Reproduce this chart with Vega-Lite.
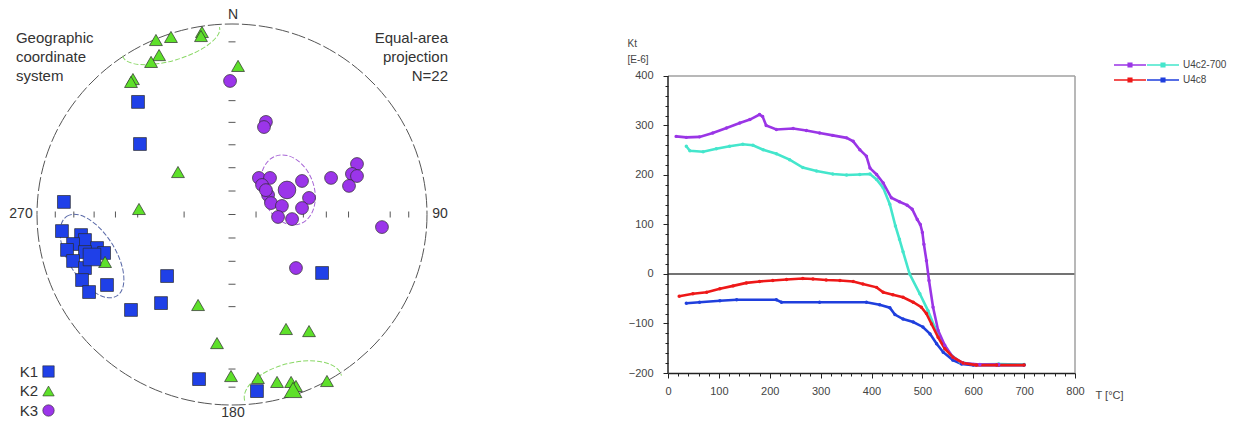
{
  "$schema": "https://vega.github.io/schema/vega-lite/v6.json",
  "padding": 0,
  "bounds": "flush",
  "spacing": 208,
  "config": {"view": {"stroke": null}, "font": "Liberation Sans"},
  "resolve": {
    "scale": {"color": "independent", "shape": "independent", "size": "independent", "x": "independent", "y": "independent"},
    "legend": {"color": "independent", "shape": "independent"}
  },
  "hconcat": [
    {
      "width": 460,
      "height": 421,
      "encoding": {
        "x": {"field": "x", "type": "quantitative", "scale": {"domain": [-1.18974, 1.16923], "nice": false, "zero": false}, "axis": null},
        "y": {"field": "y", "type": "quantitative", "scale": {"domain": [-1.08399, 1.12598], "nice": false, "zero": false}, "axis": null}
      },
      "layer": [
        {
          "data": {"values": [{"x": 0, "y": 0}]},
          "mark": {"type": "point", "shape": "M 1 0 C 1 0.5396 0.5523 0.977 0 0.977 C -0.5523 0.977 -1 0.5396 -1 0 C -1 -0.5396 -0.5523 -0.977 0 -0.977 C 0.5523 -0.977 1 -0.5396 1 0 Z", "size": 152100, "filled": false, "stroke": "#555555", "strokeWidth": 1, "strokeDash": [14, 3], "opacity": 1}
        },
        {
          "data": {"values": [
            {"x": -0.9063, "y": 0}, {"x": -0.8112, "y": 0}, {"x": -0.7071, "y": 0}, {"x": -0.5977, "y": 0}, {"x": -0.4837, "y": 0}, {"x": -0.2456, "y": 0},
            {"x": 0.1233, "y": 0}, {"x": 0.2456, "y": 0}, {"x": 0.366, "y": 0}, {"x": 0.4837, "y": 0}, {"x": 0.5977, "y": 0}, {"x": 0.8112, "y": 0}, {"x": 0.9063, "y": 0}
          ]},
          "mark": {"type": "tick", "orient": "vertical", "size": 6, "thickness": 1, "color": "#555555", "opacity": 1}
        },
        {
          "data": {"values": [
            {"x": 0, "y": 0}, {"x": 0, "y": 0.1233}, {"x": 0, "y": 0.2456}, {"x": 0, "y": 0.366}, {"x": 0, "y": 0.4837}, {"x": 0, "y": 0.5977}, {"x": 0, "y": 0.9063},
            {"x": 0, "y": -0.1233}, {"x": 0, "y": -0.2456}, {"x": 0, "y": -0.366}, {"x": 0, "y": -0.4837}, {"x": 0, "y": -0.8112}, {"x": 0, "y": -0.9063}
          ]},
          "mark": {"type": "tick", "orient": "horizontal", "size": 7, "thickness": 1, "color": "#555555", "opacity": 1}
        },
        {
          "data": {"values": [{"x": 0.287, "y": 0.129}]},
          "mark": {"type": "point", "shape": "M 0 -1 C 0.399 -1 0.722 -0.5523 0.722 0 C 0.722 0.5523 0.399 1 0 1 C -0.399 1 -0.722 0.5523 -0.722 0 C -0.722 -0.5523 -0.399 -1 0 -1 Z", "size": 5184, "angle": -20, "filled": false, "stroke": "#a765d6", "strokeWidth": 1, "strokeDash": [5, 2], "opacity": 1}
        },
        {
          "data": {"values": [{"x": -0.718, "y": -0.218}]},
          "mark": {"type": "point", "shape": "M 0 -1 C 0.276 -1 0.5 -0.5523 0.5 0 C 0.5 0.5523 0.276 1 0 1 C -0.276 1 -0.5 0.5523 -0.5 0 C -0.5 -0.5523 -0.276 -1 0 -1 Z", "size": 8836, "angle": -32, "filled": false, "stroke": "#5a6aa8", "strokeWidth": 1, "strokeDash": [5, 2], "opacity": 1}
        },
        {
          "data": {"values": [{"x": -0.313, "y": 0.908}]},
          "mark": {"type": "point", "shape": "M -1 0 C -1 0.207 -0.5523 0.375 0 0.375 C 0.5523 0.375 1 0.207 1 0", "size": 10240, "angle": -16.6, "filled": false, "stroke": "#8ad866", "strokeWidth": 1, "strokeDash": [5, 2], "opacity": 1}
        },
        {
          "data": {"values": [{"x": 0.313, "y": -0.911}]},
          "mark": {"type": "point", "shape": "M -1 0 C -1 -0.276 -0.5523 -0.5 0 -0.5 C 0.5523 -0.5 1 -0.276 1 0", "size": 10000, "angle": -14.5, "filled": false, "stroke": "#8ad866", "strokeWidth": 1, "strokeDash": [5, 2], "opacity": 1}
        },
        {
          "data": {"values": [
            {"x": -0.482, "y": 0.591, "axis": "K1", "kind": "sample"},
            {"x": -0.472, "y": 0.370, "axis": "K1", "kind": "sample"},
            {"x": -0.862, "y": 0.066, "axis": "K1", "kind": "sample"},
            {"x": -0.872, "y": -0.087, "axis": "K1", "kind": "sample"},
            {"x": -0.774, "y": -0.108, "axis": "K1", "kind": "sample"},
            {"x": -0.754, "y": -0.134, "axis": "K1", "kind": "sample"},
            {"x": -0.815, "y": -0.155, "axis": "K1", "kind": "sample"},
            {"x": -0.846, "y": -0.186, "axis": "K1", "kind": "sample"},
            {"x": -0.692, "y": -0.176, "axis": "K1", "kind": "sample"},
            {"x": -0.656, "y": -0.202, "axis": "K1", "kind": "sample"},
            {"x": -0.754, "y": -0.197, "axis": "K1", "kind": "sample"},
            {"x": -0.815, "y": -0.244, "axis": "K1", "kind": "sample"},
            {"x": -0.754, "y": -0.281, "axis": "K1", "kind": "sample"},
            {"x": -0.769, "y": -0.344, "axis": "K1", "kind": "sample"},
            {"x": -0.641, "y": -0.370, "axis": "K1", "kind": "sample"},
            {"x": -0.733, "y": -0.407, "axis": "K1", "kind": "sample"},
            {"x": -0.333, "y": -0.323, "axis": "K1", "kind": "sample"},
            {"x": -0.364, "y": -0.465, "axis": "K1", "kind": "sample"},
            {"x": -0.518, "y": -0.501, "axis": "K1", "kind": "sample"},
            {"x": -0.169, "y": -0.864, "axis": "K1", "kind": "sample"},
            {"x": 0.462, "y": -0.307, "axis": "K1", "kind": "sample"},
            {"x": 0.128, "y": -0.927, "axis": "K1", "kind": "sample"},
            {"x": -0.390, "y": 0.916, "axis": "K2", "kind": "sample"},
            {"x": -0.313, "y": 0.932, "axis": "K2", "kind": "sample"},
            {"x": -0.154, "y": 0.958, "axis": "K2", "kind": "sample"},
            {"x": -0.159, "y": 0.937, "axis": "K2", "kind": "sample"},
            {"x": -0.374, "y": 0.837, "axis": "K2", "kind": "sample"},
            {"x": -0.415, "y": 0.801, "axis": "K2", "kind": "sample"},
            {"x": -0.508, "y": 0.711, "axis": "K2", "kind": "sample"},
            {"x": -0.518, "y": 0.696, "axis": "K2", "kind": "sample"},
            {"x": 0.031, "y": 0.780, "axis": "K2", "kind": "sample"},
            {"x": -0.277, "y": 0.223, "axis": "K2", "kind": "sample"},
            {"x": -0.477, "y": 0.029, "axis": "K2", "kind": "sample"},
            {"x": -0.651, "y": -0.249, "axis": "K2", "kind": "sample"},
            {"x": -0.174, "y": -0.475, "axis": "K2", "kind": "sample"},
            {"x": -0.077, "y": -0.675, "axis": "K2", "kind": "sample"},
            {"x": -0.005, "y": -0.848, "axis": "K2", "kind": "sample"},
            {"x": 0.277, "y": -0.601, "axis": "K2", "kind": "sample"},
            {"x": 0.395, "y": -0.612, "axis": "K2", "kind": "sample"},
            {"x": 0.133, "y": -0.858, "axis": "K2", "kind": "sample"},
            {"x": 0.231, "y": -0.879, "axis": "K2", "kind": "sample"},
            {"x": 0.303, "y": -0.879, "axis": "K2", "kind": "sample"},
            {"x": 0.328, "y": -0.900, "axis": "K2", "kind": "sample"},
            {"x": 0.487, "y": -0.874, "axis": "K2", "kind": "sample"},
            {"x": -0.010, "y": 0.701, "axis": "K3", "kind": "sample"},
            {"x": 0.174, "y": 0.486, "axis": "K3", "kind": "sample"},
            {"x": 0.164, "y": 0.459, "axis": "K3", "kind": "sample"},
            {"x": 0.138, "y": 0.192, "axis": "K3", "kind": "sample"},
            {"x": 0.195, "y": 0.192, "axis": "K3", "kind": "sample"},
            {"x": 0.154, "y": 0.155, "axis": "K3", "kind": "sample"},
            {"x": 0.359, "y": 0.176, "axis": "K3", "kind": "sample"},
            {"x": 0.185, "y": 0.102, "axis": "K3", "kind": "sample"},
            {"x": 0.200, "y": 0.060, "axis": "K3", "kind": "sample"},
            {"x": 0.256, "y": 0.045, "axis": "K3", "kind": "sample"},
            {"x": 0.395, "y": 0.087, "axis": "K3", "kind": "sample"},
            {"x": 0.359, "y": 0.034, "axis": "K3", "kind": "sample"},
            {"x": 0.236, "y": -0.013, "axis": "K3", "kind": "sample"},
            {"x": 0.308, "y": -0.024, "axis": "K3", "kind": "sample"},
            {"x": 0.508, "y": 0.192, "axis": "K3", "kind": "sample"},
            {"x": 0.641, "y": 0.265, "axis": "K3", "kind": "sample"},
            {"x": 0.615, "y": 0.213, "axis": "K3", "kind": "sample"},
            {"x": 0.641, "y": 0.202, "axis": "K3", "kind": "sample"},
            {"x": 0.600, "y": 0.150, "axis": "K3", "kind": "sample"},
            {"x": 0.769, "y": -0.066, "axis": "K3", "kind": "sample"},
            {"x": 0.328, "y": -0.281, "axis": "K3", "kind": "sample"},
            {"x": 0.174, "y": 0.128, "axis": "K3", "kind": "sample"},
            {"x": -0.718, "y": -0.223, "axis": "K1", "kind": "mean"},
            {"x": 0.313, "y": -0.921, "axis": "K2", "kind": "mean"},
            {"x": 0.282, "y": 0.129, "axis": "K3", "kind": "mean"}
          ]},
          "mark": {"type": "point", "filled": true, "stroke": "#2b2b2b", "strokeWidth": 0.7, "opacity": 1},
          "encoding": {
            "color": {"field": "axis", "type": "nominal", "scale": {"domain": ["K1", "K2", "K3"], "range": ["#1f40e8", "#5ee02a", "#9b35ea"]},
              "legend": {"orient": "none", "legendX": 41, "legendY": 364, "title": null, "direction": "vertical", "labelAlign": "right", "labelOffset": -18, "labelFontSize": 15, "labelColor": "#333333", "symbolSize": 130, "symbolStrokeColor": "#2b2b2b", "symbolStrokeWidth": 0.6, "rowPadding": 3.5, "padding": 0}},
            "shape": {"field": "axis", "type": "nominal", "scale": {"domain": ["K1", "K2", "K3"], "range": ["square", "triangle-up", "circle"]},
              "legend": {"orient": "none", "legendX": 41, "legendY": 364, "title": null, "direction": "vertical", "labelAlign": "right", "labelOffset": -18, "labelFontSize": 15, "labelColor": "#333333", "symbolSize": 130, "symbolStrokeColor": "#2b2b2b", "symbolStrokeWidth": 0.6, "rowPadding": 3.5, "padding": 0}},
            "size": {"field": "kind", "type": "ordinal", "scale": {"domain": ["sample", "mean"], "range": [165, 310]}, "legend": null}
          }
        },
        {
          "data": {"values": [{"x": -1.108, "y": 0.9, "label": "Geographic\ncoordinate\nsystem"}]},
          "mark": {"type": "text", "align": "left", "baseline": "alphabetic", "fontSize": 15, "lineHeight": 19, "lineBreak": "\n", "color": "#333333"},
          "encoding": {"text": {"field": "label"}}
        },
        {
          "data": {"values": [{"x": 1.108, "y": 0.9, "label": "Equal-area\nprojection\nN=22"}]},
          "mark": {"type": "text", "align": "right", "baseline": "alphabetic", "fontSize": 15, "lineHeight": 19, "lineBreak": "\n", "color": "#333333"},
          "encoding": {"text": {"field": "label"}}
        },
        {
          "data": {"values": [
            {"x": 0.005, "y": 1.047, "label": "N"},
            {"x": -1.082, "y": 0, "label": "270"},
            {"x": 1.067, "y": 0, "label": "90"},
            {"x": 0.005, "y": -1.042, "label": "180"}
          ]},
          "mark": {"type": "text", "align": "center", "baseline": "middle", "fontSize": 14, "color": "#333333"},
          "encoding": {"text": {"field": "label"}}
        }
      ]
    },
    {
      "width": 407,
      "height": 373,
      "data": {"values": [
        {"T": 16, "K": 278, "sample": "U4c2-700", "run": "heating"},
        {"T": 36, "K": 276, "sample": "U4c2-700", "run": "heating"},
        {"T": 62, "K": 277, "sample": "U4c2-700", "run": "heating"},
        {"T": 88, "K": 285, "sample": "U4c2-700", "run": "heating"},
        {"T": 115, "K": 295, "sample": "U4c2-700", "run": "heating"},
        {"T": 141, "K": 305, "sample": "U4c2-700", "run": "heating"},
        {"T": 161, "K": 312, "sample": "U4c2-700", "run": "heating"},
        {"T": 180, "K": 322, "sample": "U4c2-700", "run": "heating"},
        {"T": 186, "K": 318, "sample": "U4c2-700", "run": "heating"},
        {"T": 193, "K": 300, "sample": "U4c2-700", "run": "heating"},
        {"T": 213, "K": 292, "sample": "U4c2-700", "run": "heating"},
        {"T": 246, "K": 294, "sample": "U4c2-700", "run": "heating"},
        {"T": 272, "K": 290, "sample": "U4c2-700", "run": "heating"},
        {"T": 298, "K": 285, "sample": "U4c2-700", "run": "heating"},
        {"T": 324, "K": 280, "sample": "U4c2-700", "run": "heating"},
        {"T": 351, "K": 275, "sample": "U4c2-700", "run": "heating"},
        {"T": 364, "K": 268, "sample": "U4c2-700", "run": "heating"},
        {"T": 377, "K": 251, "sample": "U4c2-700", "run": "heating"},
        {"T": 390, "K": 238, "sample": "U4c2-700", "run": "heating"},
        {"T": 397, "K": 214, "sample": "U4c2-700", "run": "heating"},
        {"T": 410, "K": 201, "sample": "U4c2-700", "run": "heating"},
        {"T": 423, "K": 184, "sample": "U4c2-700", "run": "heating"},
        {"T": 439, "K": 154, "sample": "U4c2-700", "run": "heating"},
        {"T": 455, "K": 146, "sample": "U4c2-700", "run": "heating"},
        {"T": 470, "K": 139, "sample": "U4c2-700", "run": "heating"},
        {"T": 480, "K": 131, "sample": "U4c2-700", "run": "heating"},
        {"T": 490, "K": 110, "sample": "U4c2-700", "run": "heating"},
        {"T": 496, "K": 100, "sample": "U4c2-700", "run": "heating"},
        {"T": 500, "K": 84, "sample": "U4c2-700", "run": "heating"},
        {"T": 503, "K": 60, "sample": "U4c2-700", "run": "heating"},
        {"T": 508, "K": 27, "sample": "U4c2-700", "run": "heating"},
        {"T": 513, "K": -13, "sample": "U4c2-700", "run": "heating"},
        {"T": 521, "K": -67, "sample": "U4c2-700", "run": "heating"},
        {"T": 531, "K": -114, "sample": "U4c2-700", "run": "heating"},
        {"T": 544, "K": -144, "sample": "U4c2-700", "run": "heating"},
        {"T": 560, "K": -168, "sample": "U4c2-700", "run": "heating"},
        {"T": 580, "K": -180, "sample": "U4c2-700", "run": "heating"},
        {"T": 613, "K": -183, "sample": "U4c2-700", "run": "heating"},
        {"T": 650, "K": -183, "sample": "U4c2-700", "run": "heating"},
        {"T": 36, "K": 258, "sample": "U4c2-700", "run": "cooling"},
        {"T": 43, "K": 249, "sample": "U4c2-700", "run": "cooling"},
        {"T": 69, "K": 247, "sample": "U4c2-700", "run": "cooling"},
        {"T": 95, "K": 253, "sample": "U4c2-700", "run": "cooling"},
        {"T": 121, "K": 258, "sample": "U4c2-700", "run": "cooling"},
        {"T": 147, "K": 262, "sample": "U4c2-700", "run": "cooling"},
        {"T": 167, "K": 260, "sample": "U4c2-700", "run": "cooling"},
        {"T": 187, "K": 251, "sample": "U4c2-700", "run": "cooling"},
        {"T": 213, "K": 243, "sample": "U4c2-700", "run": "cooling"},
        {"T": 239, "K": 231, "sample": "U4c2-700", "run": "cooling"},
        {"T": 265, "K": 215, "sample": "U4c2-700", "run": "cooling"},
        {"T": 292, "K": 208, "sample": "U4c2-700", "run": "cooling"},
        {"T": 324, "K": 202, "sample": "U4c2-700", "run": "cooling"},
        {"T": 351, "K": 200, "sample": "U4c2-700", "run": "cooling"},
        {"T": 377, "K": 201, "sample": "U4c2-700", "run": "cooling"},
        {"T": 397, "K": 202, "sample": "U4c2-700", "run": "cooling"},
        {"T": 410, "K": 191, "sample": "U4c2-700", "run": "cooling"},
        {"T": 423, "K": 174, "sample": "U4c2-700", "run": "cooling"},
        {"T": 436, "K": 141, "sample": "U4c2-700", "run": "cooling"},
        {"T": 447, "K": 97, "sample": "U4c2-700", "run": "cooling"},
        {"T": 455, "K": 70, "sample": "U4c2-700", "run": "cooling"},
        {"T": 462, "K": 45, "sample": "U4c2-700", "run": "cooling"},
        {"T": 475, "K": 0, "sample": "U4c2-700", "run": "cooling"},
        {"T": 495, "K": -40, "sample": "U4c2-700", "run": "cooling"},
        {"T": 511, "K": -74, "sample": "U4c2-700", "run": "cooling"},
        {"T": 524, "K": -107, "sample": "U4c2-700", "run": "cooling"},
        {"T": 537, "K": -134, "sample": "U4c2-700", "run": "cooling"},
        {"T": 554, "K": -161, "sample": "U4c2-700", "run": "cooling"},
        {"T": 574, "K": -178, "sample": "U4c2-700", "run": "cooling"},
        {"T": 600, "K": -183, "sample": "U4c2-700", "run": "cooling"},
        {"T": 650, "K": -182, "sample": "U4c2-700", "run": "cooling"},
        {"T": 700, "K": -183, "sample": "U4c2-700", "run": "cooling"},
        {"T": 22, "K": -45, "sample": "U4c8", "run": "heating"},
        {"T": 49, "K": -40, "sample": "U4c8", "run": "heating"},
        {"T": 76, "K": -37, "sample": "U4c8", "run": "heating"},
        {"T": 102, "K": -30, "sample": "U4c8", "run": "heating"},
        {"T": 128, "K": -24, "sample": "U4c8", "run": "heating"},
        {"T": 154, "K": -18, "sample": "U4c8", "run": "heating"},
        {"T": 180, "K": -15, "sample": "U4c8", "run": "heating"},
        {"T": 206, "K": -13, "sample": "U4c8", "run": "heating"},
        {"T": 233, "K": -11, "sample": "U4c8", "run": "heating"},
        {"T": 265, "K": -9, "sample": "U4c8", "run": "heating"},
        {"T": 285, "K": -10, "sample": "U4c8", "run": "heating"},
        {"T": 311, "K": -12, "sample": "U4c8", "run": "heating"},
        {"T": 338, "K": -13, "sample": "U4c8", "run": "heating"},
        {"T": 364, "K": -15, "sample": "U4c8", "run": "heating"},
        {"T": 383, "K": -20, "sample": "U4c8", "run": "heating"},
        {"T": 410, "K": -27, "sample": "U4c8", "run": "heating"},
        {"T": 423, "K": -37, "sample": "U4c8", "run": "heating"},
        {"T": 442, "K": -42, "sample": "U4c8", "run": "heating"},
        {"T": 462, "K": -47, "sample": "U4c8", "run": "heating"},
        {"T": 482, "K": -57, "sample": "U4c8", "run": "heating"},
        {"T": 498, "K": -67, "sample": "U4c8", "run": "heating"},
        {"T": 508, "K": -80, "sample": "U4c8", "run": "heating"},
        {"T": 518, "K": -101, "sample": "U4c8", "run": "heating"},
        {"T": 531, "K": -128, "sample": "U4c8", "run": "heating"},
        {"T": 544, "K": -151, "sample": "U4c8", "run": "heating"},
        {"T": 560, "K": -168, "sample": "U4c8", "run": "heating"},
        {"T": 580, "K": -180, "sample": "U4c8", "run": "heating"},
        {"T": 606, "K": -184, "sample": "U4c8", "run": "heating"},
        {"T": 646, "K": -184, "sample": "U4c8", "run": "heating"},
        {"T": 700, "K": -184, "sample": "U4c8", "run": "heating"},
        {"T": 36, "K": -59, "sample": "U4c8", "run": "cooling"},
        {"T": 62, "K": -57, "sample": "U4c8", "run": "cooling"},
        {"T": 102, "K": -54, "sample": "U4c8", "run": "cooling"},
        {"T": 135, "K": -52, "sample": "U4c8", "run": "cooling"},
        {"T": 213, "K": -52, "sample": "U4c8", "run": "cooling"},
        {"T": 223, "K": -57, "sample": "U4c8", "run": "cooling"},
        {"T": 298, "K": -57, "sample": "U4c8", "run": "cooling"},
        {"T": 390, "K": -57, "sample": "U4c8", "run": "cooling"},
        {"T": 416, "K": -62, "sample": "U4c8", "run": "cooling"},
        {"T": 436, "K": -68, "sample": "U4c8", "run": "cooling"},
        {"T": 446, "K": -82, "sample": "U4c8", "run": "cooling"},
        {"T": 462, "K": -91, "sample": "U4c8", "run": "cooling"},
        {"T": 482, "K": -97, "sample": "U4c8", "run": "cooling"},
        {"T": 501, "K": -107, "sample": "U4c8", "run": "cooling"},
        {"T": 515, "K": -121, "sample": "U4c8", "run": "cooling"},
        {"T": 528, "K": -141, "sample": "U4c8", "run": "cooling"},
        {"T": 541, "K": -158, "sample": "U4c8", "run": "cooling"},
        {"T": 560, "K": -174, "sample": "U4c8", "run": "cooling"},
        {"T": 577, "K": -182, "sample": "U4c8", "run": "cooling"},
        {"T": 600, "K": -184, "sample": "U4c8", "run": "cooling"},
        {"T": 650, "K": -184, "sample": "U4c8", "run": "cooling"},
        {"T": 700, "K": -184, "sample": "U4c8", "run": "cooling"}
      ]},
      "resolve": {
        "scale": {"color": "independent"},
        "legend": {"color": "independent"},
        "axis": {"x": "independent", "y": "independent"}
      },
      "layer": [
        {
          "data": {"values": [{}]},
          "mark": {"type": "rule", "color": "#444444", "strokeWidth": 1.5},
          "encoding": {
            "x": {"datum": 0, "type": "quantitative", "scale": {"domain": [0, 800], "nice": false, "zero": false},
              "axis": {"orient": "bottom", "values": [20, 40, 60, 80, 120, 140, 160, 180, 220, 240, 260, 280, 320, 340, 360, 380, 420, 440, 460, 480, 520, 540, 560, 580, 620, 640, 660, 680, 720, 740, 760, 780], "tickSize": 3, "tickColor": "#222222", "labels": false, "domain": false, "grid": false, "title": null}},
            "x2": {"datum": 800},
            "y": {"datum": 0, "type": "quantitative", "scale": {"domain": [-200, 553.5], "nice": false, "zero": false},
              "axis": {"orient": "left", "values": [-180, -160, -140, -120, -80, -60, -40, -20, 20, 40, 60, 80, 120, 140, 160, 180, 220, 240, 260, 280, 320, 340, 360, 380], "tickSize": 3, "tickColor": "#222222", "labels": false, "domain": false, "grid": false, "title": null}}
          }
        },
        {
          "data": {"values": [{}]},
          "mark": {"type": "rule", "color": "#a0a0a0", "strokeWidth": 1.5},
          "encoding": {
            "x": {"datum": 0, "type": "quantitative", "scale": {"domain": [0, 800], "nice": false, "zero": false}, "axis": null},
            "x2": {"datum": 800},
            "y": {"datum": 400, "type": "quantitative", "scale": {"domain": [-200, 553.5], "nice": false, "zero": false}, "axis": null}
          }
        },
        {
          "data": {"values": [{}]},
          "mark": {"type": "rule", "color": "#a0a0a0", "strokeWidth": 1.5},
          "encoding": {
            "x": {"datum": 800, "type": "quantitative", "scale": {"domain": [0, 800], "nice": false, "zero": false}, "axis": null},
            "y": {"datum": -200, "type": "quantitative", "scale": {"domain": [-200, 553.5], "nice": false, "zero": false}, "axis": null},
            "y2": {"datum": 400}
          }
        },
        {
          "data": {"values": [{}]},
          "mark": {"type": "rule", "color": "#222222", "strokeWidth": 1.5},
          "encoding": {
            "x": {"datum": 0, "type": "quantitative", "scale": {"domain": [0, 800], "nice": false, "zero": false}, "axis": null},
            "y": {"datum": -200, "type": "quantitative", "scale": {"domain": [-200, 553.5], "nice": false, "zero": false}, "axis": null},
            "y2": {"datum": 400}
          }
        },
        {
          "transform": [{"filter": "datum.run === 'cooling'"}],
          "mark": {"type": "line", "strokeWidth": 2.6, "point": {"filled": true, "size": 12}},
          "encoding": {
            "x": {"field": "T", "type": "quantitative", "scale": {"domain": [0, 800], "nice": false, "zero": false}, "axis": null},
            "y": {"field": "K", "type": "quantitative", "scale": {"domain": [-200, 553.5], "nice": false, "zero": false}, "axis": null},
            "color": {"field": "sample", "type": "nominal", "scale": {"domain": ["U4c2-700", "U4c8"], "range": ["#44e6cc", "#1f3fdd"]},
              "legend": {"orient": "none", "legendX": 490, "legendY": 60, "title": null, "direction": "vertical", "symbolType": "M -4 0 L 4 0 M -0.45 -0.45 L 0.45 -0.45 L 0.45 0.45 L -0.45 0.45 Z", "symbolSize": 64, "symbolStrokeWidth": 1.5, "labelFontSize": 10, "labelColor": "#444444", "labelOffset": 15, "rowPadding": 5, "padding": 0}}
          }
        },
        {
          "transform": [{"filter": "datum.run === 'heating'"}],
          "mark": {"type": "line", "strokeWidth": 2.6, "point": {"filled": true, "size": 12}},
          "encoding": {
            "x": {"field": "T", "type": "quantitative", "scale": {"domain": [0, 800], "nice": false, "zero": false},
              "axis": {"orient": "bottom", "values": [0, 100, 200, 300, 400, 500, 600, 700, 800], "tickSize": 5, "tickColor": "#222222", "domainColor": "#222222", "domainWidth": 1.5, "labelFontSize": 11, "labelColor": "#444444", "labelPadding": 7, "labelFlush": false, "labelOverlap": false, "grid": false, "title": "T [°C]", "titleX": 427, "titleY": 22, "titleAlign": "left", "titleBaseline": "middle", "titleFontSize": 11, "titleFontWeight": "normal", "titleColor": "#444444"}},
            "y": {"field": "K", "type": "quantitative", "scale": {"domain": [-200, 553.5], "nice": false, "zero": false},
              "axis": {"orient": "left", "values": [-200, -100, 0, 100, 200, 300, 400], "tickSize": 5, "tickColor": "#222222", "domain": false, "labelFontSize": 11, "labelColor": "#444444", "labelPadding": 10, "labelFlush": false, "labelOverlap": false, "grid": false, "title": ["Kt", "[E-6]"], "titleAngle": 0, "titleX": -41, "titleY": 43, "titleAlign": "left", "titleBaseline": "middle", "titleFontSize": 10, "titleFontWeight": "normal", "titleColor": "#444444", "titleLineHeight": 16}},
            "color": {"field": "sample", "type": "nominal", "scale": {"domain": ["U4c2-700", "U4c8"], "range": ["#9a35e6", "#ee1818"]},
              "legend": {"orient": "none", "legendX": 457, "legendY": 60, "title": null, "direction": "vertical", "symbolType": "M -4 0 L 4 0 M -0.45 -0.45 L 0.45 -0.45 L 0.45 0.45 L -0.45 0.45 Z", "symbolSize": 64, "symbolStrokeWidth": 1.5, "labelFontSize": 10, "labelColor": "#444444", "labelExpr": "' '", "labelOffset": 15, "rowPadding": 5, "padding": 0}}
          }
        }
      ]
    }
  ]
}
